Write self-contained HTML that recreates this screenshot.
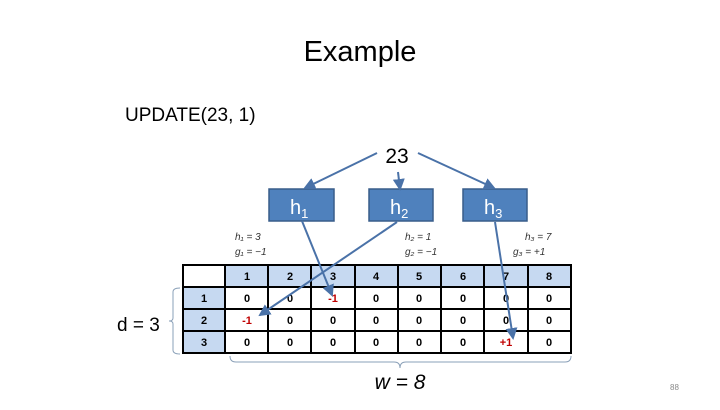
<!DOCTYPE html>
<html><head><style>
body{margin:0;background:#fff}
svg text{font-family:"Liberation Sans",sans-serif}
</style></head><body>
<svg width="720" height="405" xmlns="http://www.w3.org/2000/svg">
<text x="360" y="61" font-size="29" text-anchor="middle">Example</text>
<text x="125" y="121" font-size="19">UPDATE(23, 1)</text>
<text x="397" y="163" font-size="21" text-anchor="middle">23</text>
<g fill="#4f81bd" stroke="#385d8a" stroke-width="1.5">
<rect x="269" y="189" width="65" height="32"/>
<rect x="369" y="189" width="64" height="32"/>
<rect x="463" y="189" width="64" height="32"/>
</g>
<g fill="#fff" font-size="20">
<text x="290" y="214">h<tspan font-size="13" dy="4">1</tspan></text>
<text x="390" y="214">h<tspan font-size="13" dy="4">2</tspan></text>
<text x="484" y="214">h<tspan font-size="13" dy="4">3</tspan></text>
</g>
<g font-size="10" font-style="italic" fill="#333" font-family="Liberation Serif">
<text x="235" y="240">h₁ = 3</text><text x="235" y="255">g₁ = −1</text>
<text x="405" y="240">h₂ = 1</text><text x="405" y="255">g₂ = −1</text>
<text x="525" y="240">h₃ = 7</text><text x="513" y="255">g₃ = +1</text>
</g>
<!-- table -->
<g>
<rect x="225" y="265" width="346" height="22" fill="#c6d9f1"/>
<rect x="183" y="287" width="42" height="66" fill="#c6d9f1"/>
<g stroke="#000" stroke-width="2" fill="none">
<rect x="183" y="265" width="388" height="88"/>
<line x1="183" y1="287" x2="571" y2="287"/>
<line x1="183" y1="309" x2="571" y2="309"/>
<line x1="183" y1="331" x2="571" y2="331"/>
<line x1="225" y1="265" x2="225" y2="353"/>
<line x1="268" y1="265" x2="268" y2="353"/>
<line x1="311" y1="265" x2="311" y2="353"/>
<line x1="355" y1="265" x2="355" y2="353"/>
<line x1="398" y1="265" x2="398" y2="353"/>
<line x1="441" y1="265" x2="441" y2="353"/>
<line x1="484" y1="265" x2="484" y2="353"/>
<line x1="528" y1="265" x2="528" y2="353"/>
</g>
<g font-size="11" font-weight="bold" text-anchor="middle" fill="#000">
<text x="247" y="280">1</text><text x="290" y="280">2</text><text x="333" y="280">3</text><text x="376" y="280">4</text><text x="419" y="280">5</text><text x="463" y="280">6</text><text x="506" y="280">7</text><text x="549" y="280">8</text>
<text x="204" y="302">1</text><text x="204" y="324">2</text><text x="204" y="346">3</text>
<text x="247" y="302">0</text><text x="290" y="302">0</text><text x="333" y="302" fill="#c00000">-1</text><text x="376" y="302">0</text><text x="419" y="302">0</text><text x="463" y="302">0</text><text x="506" y="302">0</text><text x="549" y="302">0</text>
<text x="247" y="324" fill="#c00000">-1</text><text x="290" y="324">0</text><text x="333" y="324">0</text><text x="376" y="324">0</text><text x="419" y="324">0</text><text x="463" y="324">0</text><text x="506" y="324">0</text><text x="549" y="324">0</text>
<text x="247" y="346">0</text><text x="290" y="346">0</text><text x="333" y="346">0</text><text x="376" y="346">0</text><text x="419" y="346">0</text><text x="463" y="346">0</text><text x="506" y="346" fill="#c00000">+1</text><text x="549" y="346">0</text>
</g>
</g>
<defs><marker id="a" markerWidth="6" markerHeight="6" refX="5" refY="3" orient="auto"><path d="M0,0L6,3L0,6z" fill="#4a72a8"/></marker></defs>
<g stroke="#4a72a8" stroke-width="2" fill="none" marker-end="url(#a)">
<line x1="377" y1="153" x2="305" y2="188"/>
<line x1="398" y1="172" x2="400" y2="189"/>
<line x1="418" y1="153" x2="494" y2="188"/>
<line x1="302" y1="221" x2="332" y2="295"/>
<line x1="397" y1="222" x2="260" y2="315"/>
<line x1="495" y1="222" x2="513" y2="338"/>
</g>
<g stroke="#8aa0b8" stroke-width="1" fill="none">
<path d="M180,288 Q173,288 173,292 L173,318 Q173,321 169,321 Q173,321 173,324 L173,350 Q173,354 180,354"/>
<path d="M230,356 Q230,362 236,362 L394,362 Q400,362 400,368 Q400,362 406,362 L565,362 Q571,362 571,356"/>
</g>
<text x="117" y="331" font-size="19">d = 3</text>
<text x="400" y="389" font-size="21" font-style="italic" text-anchor="middle">w = 8</text>
<text x="670" y="390" font-size="8" fill="#888">88</text>
</svg>
</body></html>
